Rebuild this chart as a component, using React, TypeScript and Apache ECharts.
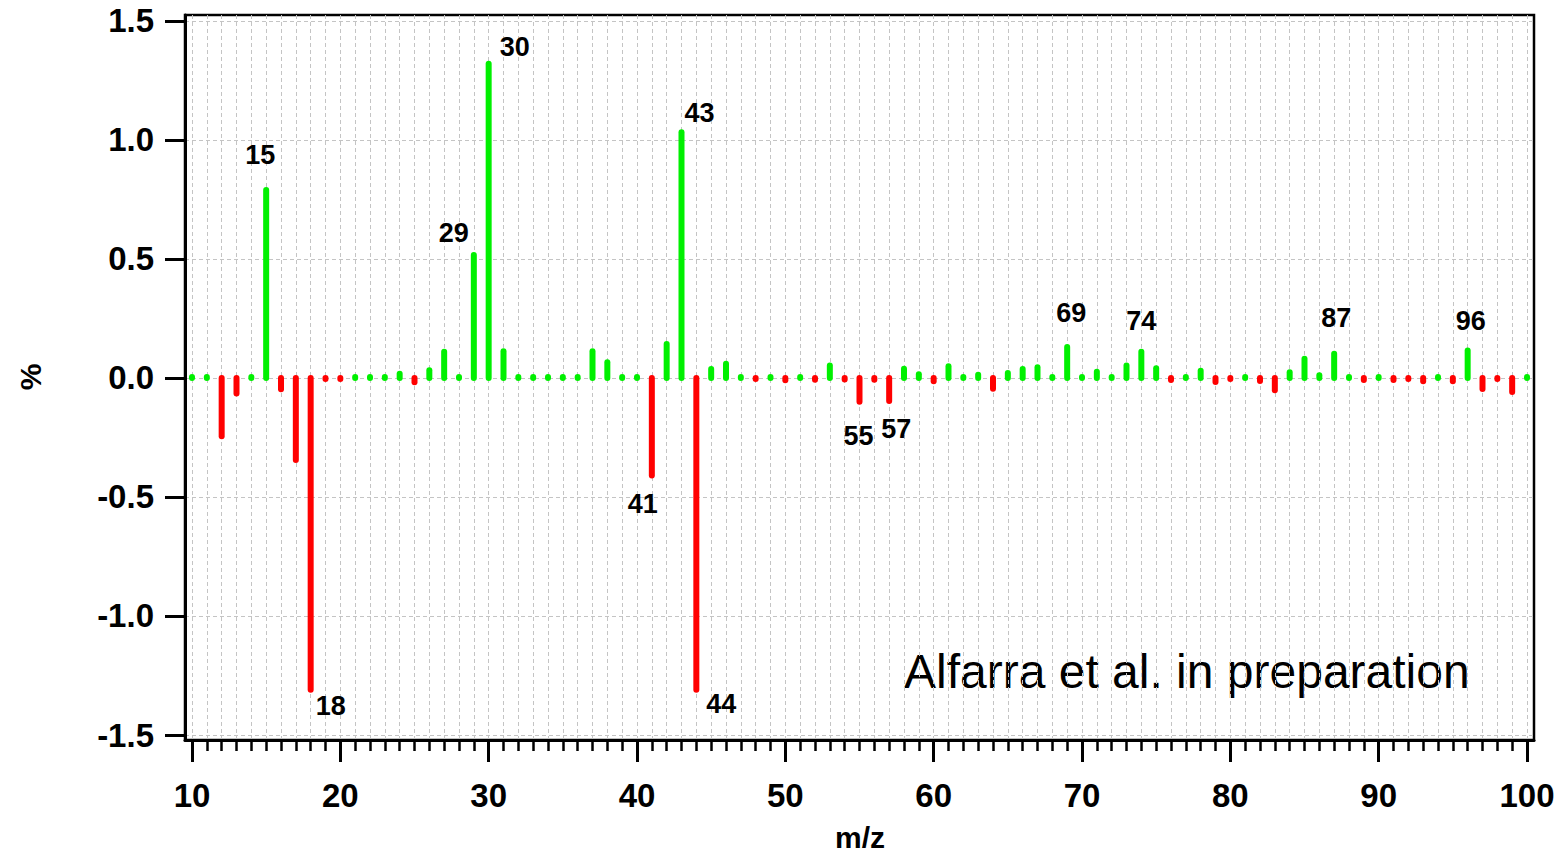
import React, { useEffect, useRef } from "react";
import * as echarts from "echarts";

// m/z channels and their difference-spectrum values (%)
const mz = [
  10, 11, 12, 13, 14, 15, 16, 17, 18, 19, 20, 21, 22, 23, 24, 25, 26, 27, 28, 29,
  30, 31, 32, 33, 34, 35, 36, 37, 38, 39, 40, 41, 42, 43, 44, 45, 46, 47, 48, 49,
  50, 51, 52, 53, 54, 55, 56, 57, 58, 59, 60, 61, 62, 63, 64, 65, 66, 67, 68, 69,
  70, 71, 72, 73, 74, 75, 76, 77, 78, 79, 80, 81, 82, 83, 84, 85, 86, 87, 88, 89,
  90, 91, 92, 93, 94, 95, 96, 97, 98, 99, 100,
];

const values = [
  0.004, 0.004, -0.245, -0.065, 0.004, 0.79, -0.047, -0.345, -1.31, -0.004,
  -0.004, 0.004, 0.004, 0.004, 0.018, -0.018, 0.032, 0.11, 0.004, 0.517,
  1.32, 0.112, 0.004, 0.004, 0.004, 0.004, 0.004, 0.112, 0.066, 0.004,
  0.004, -0.41, 0.143, 1.032, -1.31, 0.038, 0.06, 0.004, -0.004, 0.004,
  -0.01, 0.004, -0.007, 0.052, -0.006, -0.1, -0.007, -0.097, 0.039, 0.016,
  -0.014, 0.049, 0.004, 0.014, -0.045, 0.021, 0.038, 0.045, 0.004, 0.13,
  0.004, 0.026, 0.004, 0.052, 0.11, 0.041, -0.008, 0.004, 0.03, -0.017,
  -0.004, 0.004, -0.013, -0.052, 0.024, 0.081, 0.011, 0.102, 0.004, -0.008,
  0.004, -0.008, -0.004, -0.014, 0.004, -0.014, 0.115, -0.046, -0.004, -0.059,
  0.004,
];

// Peaks that carry an m/z annotation
const labelledMz = [15, 18, 29, 30, 41, 43, 44, 55, 57, 69, 74, 87, 96];
// Pixel offset of each annotation from its peak tip
const labelOffsets: number[][] = [
  [-6, -35], [20, 16], [-20, -22], [26, -17], [-9, 28], [18, -19], [25, 14],
  [-1, 34], [7, 28], [4, -34], [0, -31], [2, -36], [3, -30],
];

const yTicks = [-1.5, -1.0, -0.5, 0.0, 0.5, 1.0, 1.5];
const xMajorTicks = [10, 20, 30, 40, 50, 60, 70, 80, 90, 100];

const GREEN = "#00f000";
const RED = "#ff0000";
const FONT = '"Liberation Sans", Arial, Helvetica, sans-serif';

export default function App() {
  const ref = useRef<HTMLDivElement>(null);

  useEffect(() => {
    document.body.style.margin = "0";
    if (!ref.current) return;
    const chart = echarts.init(ref.current, undefined, { renderer: "svg" });

    const spectrum = mz.map((m, i) => [m, values[i]]);
    const labelData = labelledMz.map((m, i) => [
      m,
      values[mz.indexOf(m)],
      labelOffsets[i][0],
      labelOffsets[i][1],
    ]);

    const xRange = { min: 9.528, max: 100.472 };

    chart.setOption({
      animation: false,
      backgroundColor: "#fff",
      grid: {
        left: 185,
        right: 29,
        top: 15,
        bottom: 113,
        show: true,
        borderColor: "#000",
        borderWidth: 2.5,
        backgroundColor: "transparent",
      },
      xAxis: [
        {
          type: "value",
          ...xRange,
          position: "bottom",
          axisLine: { show: true, onZero: false, lineStyle: { color: "#000", width: 3 } },
          axisTick: {
            show: true,
            customValues: xMajorTicks,
            length: 22,
            lineStyle: { color: "#000", width: 3 },
          },
          axisLabel: {
            show: true,
            customValues: xMajorTicks,
            margin: 39,
            color: "#000",
            fontSize: 33,
            fontWeight: "bold",
            fontFamily: FONT,
          },
          splitLine: { show: false },
        },
        {
          type: "value",
          ...xRange,
          position: "bottom",
          axisLine: { show: false, onZero: false },
          axisTick: {
            show: true,
            customValues: mz,
            length: 11,
            lineStyle: { color: "#000", width: 2.5 },
          },
          axisLabel: { show: false },
          splitLine: {
            show: true,
            lineStyle: { color: "#c4c4c4", width: 1, type: [4, 3] },
          },
        },
      ],
      yAxis: {
        type: "value",
        min: -1.521,
        max: 1.525,
        axisLine: { show: true, onZero: false, lineStyle: { color: "#000", width: 3 } },
        axisTick: {
          show: true,
          customValues: yTicks,
          length: 20,
          lineStyle: { color: "#000", width: 3 },
        },
        axisLabel: {
          show: true,
          customValues: yTicks,
          margin: 31,
          color: "#000",
          fontSize: 33,
          fontWeight: "bold",
          fontFamily: FONT,
          formatter: (v: number) => v.toFixed(1),
        },
        splitLine: {
          show: true,
          lineStyle: { color: "#c4c4c4", width: 1, type: [4, 3] },
        },
      },
      series: [
        {
          type: "custom",
          xAxisIndex: 0,
          data: spectrum,
          clip: false,
          renderItem: (_params: any, api: any) => {
            const x = api.value(0);
            const v = api.value(1);
            const p0 = api.coord([x, 0]);
            const p1 = api.coord([x, v]);
            return {
              type: "line",
              shape: { x1: p0[0], y1: p0[1], x2: p1[0], y2: p1[1] },
              style: {
                stroke: v < 0 ? RED : GREEN,
                lineWidth: 6,
                lineCap: "round",
              },
            };
          },
          z: 5,
        },
        {
          type: "custom",
          xAxisIndex: 0,
          data: labelData,
          clip: false,
          renderItem: (_params: any, api: any) => {
            const p = api.coord([api.value(0), api.value(1)]);
            return {
              type: "text",
              x: p[0] + api.value(2),
              y: p[1] + api.value(3),
              style: {
                text: String(api.value(0)),
                fill: "#000",
                fontSize: 27,
                fontWeight: "bold",
                fontFamily: FONT,
                align: "center",
                verticalAlign: "middle",
              },
            };
          },
          z: 6,
        },
      ],
      graphic: [
        {
          type: "text",
          x: 30,
          y: 377,
          rotation: Math.PI / 2,
          style: {
            text: "%",
            fill: "#000",
            fontSize: 30,
            fontWeight: "bold",
            fontFamily: FONT,
            align: "center",
            verticalAlign: "middle",
          },
        },
        {
          type: "text",
          x: 860,
          y: 837,
          style: {
            text: "m/z",
            fill: "#000",
            fontSize: 30,
            fontWeight: "bold",
            fontFamily: FONT,
            align: "center",
            verticalAlign: "middle",
          },
        },
        {
          type: "text",
          x: 904,
          y: 671,
          style: {
            text: "Alfarra et al. in preparation",
            fill: "#000",
            fontSize: 48,
            fontFamily: FONT,
            align: "left",
            verticalAlign: "middle",
          },
        },
      ],
    });

    return () => chart.dispose();
  }, []);

  return <div ref={ref} style={{ width: 1563, height: 853 }} />;
}
